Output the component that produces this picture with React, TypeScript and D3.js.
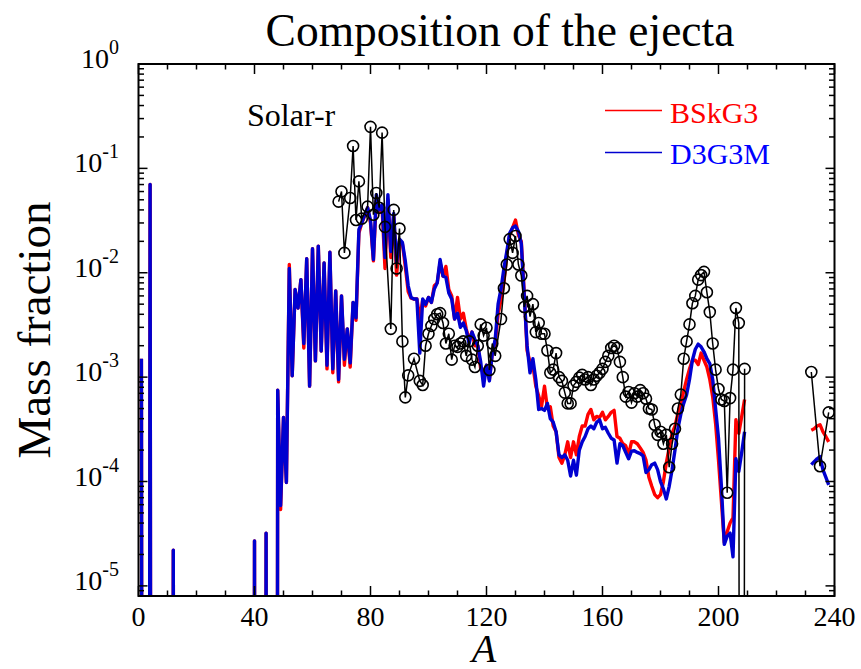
import React from 'react';
import * as d3 from 'd3';

const WIDTH = 861;
const HEIGHT = 669;
const FONT = '"Liberation Serif", "Times New Roman", serif';
const BOX = { left: 138.5, right: 834.5, top: 64, bottom: 596 };

// Mass number axis of the model curves: 1..209, a break (210), then 232..238
const modelA: number[] = [...d3.range(1, 211), ...d3.range(232, 239)];

// A = 1..47 (zeros are species absent from the ejecta)
const lightBSkG3 = [1.5e-3, 0, 0, 0.07, 0, 0, 0, 0, 0, 0, 0, 2.2e-5,
  0, 0, 0, 0, 0, 0, 0, 0, 0, 0, 0, 0, 0, 0, 0, 0, 0, 0, 0, 0, 0, 0, 0, 0, 0, 0, 0,
  2.7e-5, 0, 0, 0, 3.2e-5, 0, 0, 0];
const lightD3G3M = [1.5e-3, 0, 0, 0.07, 0, 0, 0, 0, 0, 0, 0, 2.2e-5,
  0, 0, 0, 0, 0, 0, 0, 0, 0, 0, 0, 0, 0, 0, 0, 0, 0, 0, 0, 0, 0, 0, 0, 0, 0, 0, 0,
  2.7e-5, 0, 0, 0, 3.2e-5, 0, 0, 0];

// A = 48..75
const midBSkG3 = [7.5e-4, 5.4e-5, 4.1e-4, 9.8e-5, 1.2e-2, 1.03e-3, 6.9e-3, 4.6e-3, 8.6e-3, 1.9e-3,
  1.36e-2, 8.2e-4, 1.7e-2, 1.43e-3, 1.8e-2, 1.78e-3, 1.24e-2, 1.2e-3, 1.57e-2, 1.1e-3,
  6.7e-3, 9.0e-4, 6.0e-3, 1.3e-3, 2.9e-3, 1.25e-3, 5.2e-3, 3.5e-3];
const midD3G3M = [7.5e-4, 5.9e-5, 4.1e-4, 9.8e-5, 1.1e-2, 1.03e-3, 6.9e-3, 4.6e-3, 8.6e-3, 2.1e-3,
  1.36e-2, 8.2e-4, 1.7e-2, 1.43e-3, 1.8e-2, 1.78e-3, 1.24e-2, 1.3e-3, 1.57e-2, 1.2e-3,
  6.7e-3, 9.5e-4, 6.0e-3, 1.48e-3, 2.9e-3, 1.37e-3, 5.2e-3, 3.7e-3];

// A = 76..209
const heavyBSkG3 = [
  0.024, 0.030, 0.035, 0.042, 0.030, 0.013, 0.050, 0.038, 0.042, 0.011, // 76-85
  0.050, 0.014, 0.036, 0.0095, 0.020, 0.019, 0.0115, 0.0066, 0.0057, 0.0056, // 86-95
  0.0056, 0.0036, 0.0055, 0.0048, 0.0058, 0.0052, 0.0075, 0.0080, 0.0125, 0.0093, // 96-105
  0.0115, 0.0069, 0.0060, 0.0036, 0.0058, 0.0036, 0.0041, 0.0029, 0.0023, 0.0027, // 106-115
  0.0020, 0.0020, 0.0012, 0.0011, 0.0013, 0.00095, 0.0017, 0.0021, 0.0040, 0.0055, // 116-125
  0.0080, 0.0150, 0.0230, 0.0270, 0.0320, 0.0230, 0.0200, 0.0065, 0.0018, 0.0014, // 126-135
  0.0013, 0.00082, 0.00066, 0.00053, 0.00082, 0.00050, 0.00052, 0.00034, 0.00030, 0.00017, // 136-145
  0.00015, 0.00018, 0.00024, 0.00017, 0.00024, 0.00018, 2.7e-4, 3.4e-4, 3.4e-4, 4.4e-4, // 146-155
  4.9e-4, 3.9e-4, 4.2e-4, 4.1e-4, 4.6e-4, 3.9e-4, 4.2e-4, 4.6e-4, 4.8e-4, 2.7e-4, // 156-165
  2.6e-4, 2.3e-4, 2.2e-4, 1.8e-4, 2.4e-4, 2.4e-4, 2.3e-4, 2.1e-4, 1.9e-4, 1.6e-4, // 166-175
  1.1e-4, 9.0e-5, 7.5e-5, 7.0e-5, 7.5e-5, 1.0e-4, 1.5e-4, 2.1e-4, 2.9e-4, 3.4e-4, // 176-185
  4.5e-4, 5.6e-4, 7.3e-4, 9.5e-4, 1.2e-3, 1.45e-3, 1.45e-3, 1.32e-3, 1.7e-3, 1.45e-3, // 186-195
  1.25e-3, 9.5e-4, 6.5e-4, 3.6e-4, 1.6e-4, 6.5e-5, 2.6e-5, 3.3e-5, 4.0e-5, 4.5e-5, // 196-205
  3.9e-4, 2.9e-4, 4.2e-4, 6.1e-4 // 206-209
];
const heavyD3G3M = [
  0.026, 0.030, 0.036, 0.042, 0.032, 0.0134, 0.056, 0.040, 0.045, 0.014, // 76-85
  0.056, 0.016, 0.037, 0.0125, 0.021, 0.0195, 0.013, 0.0075, 0.0058, 0.0056, // 86-95
  0.0056, 0.0017, 0.0056, 0.0050, 0.0058, 0.0052, 0.0070, 0.0080, 0.0134, 0.0093, // 96-105
  0.0090, 0.0064, 0.0056, 0.0036, 0.0041, 0.0030, 0.0033, 0.0028, 0.0021, 0.0027, // 106-115
  0.0023, 0.0020, 0.0014, 0.00082, 0.0013, 0.00092, 0.0017, 0.0023, 0.0050, 0.0070, // 116-125
  0.0110, 0.0160, 0.0240, 0.0270, 0.0280, 0.0250, 0.0190, 0.0060, 0.0020, 0.0011, // 126-135
  0.0015, 0.00095, 0.00049, 0.00050, 0.00048, 0.00056, 0.00040, 0.00037, 0.00030, 0.00018, // 136-145
  0.00017, 0.00018, 0.00016, 0.000113, 0.00016, 0.000115, 2.0e-4, 2.4e-4, 2.7e-4, 3.2e-4, // 146-155
  3.4e-4, 3.2e-4, 3.7e-4, 3.9e-4, 3.2e-4, 3.3e-4, 2.9e-4, 2.6e-4, 2.5e-4, 1.5e-4, // 156-165
  2.3e-4, 2.2e-4, 1.9e-4, 1.65e-4, 1.95e-4, 1.97e-4, 1.9e-4, 1.85e-4, 1.76e-4, 1.22e-4, // 166-175
  1.3e-4, 1.45e-4, 1.5e-4, 1.3e-4, 1.0e-4, 8.5e-5, 6.8e-5, 9.0e-5, 1.3e-4, 2.0e-4, // 176-185
  3.2e-4, 4.4e-4, 5.6e-4, 6.8e-4, 9.5e-4, 1.45e-3, 1.85e-3, 2.07e-3, 1.95e-3, 1.75e-3, // 186-195
  1.5e-3, 1.35e-3, 9.5e-4, 5.0e-4, 2.6e-4, 9.0e-5, 2.5e-5, 3.0e-5, 3.2e-5, 1.9e-5, // 196-205
  1.65e-4, 1.25e-4, 1.9e-4, 3.0e-4 // 206-209
];

// A = 232..238
const actinideBSkG3 = [3.1e-4, 3.2e-4, 3.4e-4, 3.5e-4, 3.0e-4, 2.7e-4, 2.4e-4];
const actinideD3G3M = [1.45e-4, 1.55e-4, 1.65e-4, 1.73e-4, 1.3e-4, 1.1e-4, 9.3e-5];

const bskg3: (number | null)[] = [...lightBSkG3, ...midBSkG3, ...heavyBSkG3, null, ...actinideBSkG3];
const d3g3m: (number | null)[] = [...lightD3G3M, ...midD3G3M, ...heavyD3G3M, null, ...actinideD3G3M];

// Solar r-process abundances (null = break in the curve)
const solarA = [69, 70, 71, 73, 74, 75, 76, 77, 79, 80, 81, 82, 83, 84, 85, 87, 88, 89, 90, 91,
  92, 93, 95, 97, 98, 99, 100, 101, 102, 103, 104, 105, 106, 107, 108, 109, 110, 111, 112, 113,
  114, 115, 116, 117, 118, 119, 120, 121, 122, 123, 125, 126, 127, 128, 129, 130, 131, 132, 133, 134,
  135, 136, 137, 138, 139, 140, 141, 142, 143, 144, 145, 146, 147, 148, 149, 150, 151, 152, 153, 154,
  155, 156, 157, 158, 159, 160, 161, 162, 163, 164, 165, 166, 167, 168, 169, 170, 171, 172, 173, 174,
  175, 176, 177, 178, 179, 180, 181, 182, 183, 184, 185, 186, 187, 188, 189, 190, 191, 192, 193, 194,
  195, 196, 197, 198, 199, 200, 201, 202, 203, 204, 205, 206, 207, 208, 209, 210, 232, 235, 238];
const solarR: (number | null)[] = [0.048, 0.060, 0.0155, 0.052, 0.164, 0.032, 0.075, 0.033, 0.043, 0.25,
  0.036, 0.058, 0.042, 0.22, 0.0275, 0.0029, 0.040, 0.011, 0.0265, 0.0022,
  6.4e-4, 1.04e-3, 1.5e-3, 9.2e-4, 8.4e-4, 2.0e-3, 2.6e-3, 3.1e-3, 3.6e-3, 4.0e-3,
  4.1e-3, 3.3e-3, 2.1e-3, 2.6e-3, 1.47e-3, 2.0e-3, 1.95e-3, 2.1e-3, 2.2e-3, 1.6e-3,
  2.2e-3, 1.47e-3, 1.25e-3, 2.0e-3, 3.2e-3, 2.5e-3, 2.97e-3, 1.17e-3, 2.1e-3, 1.6e-3,
  3.6e-3, 7.1e-3, 0.012, 0.021, 0.0155, 0.0225, 0.012, 0.0094, 0.0047, 0.006,
  0.0038, 0.005, 0.0027, 0.0033, 2.6e-3, 2.6e-3, 1.8e-3, 1.1e-3, 1.18e-3, 1.7e-3,
  1.0e-3, 9.2e-4, 7.1e-4, 5.6e-4, 5.6e-4, 8.3e-4, 9.0e-4, 9.9e-4, 1.05e-3, 9.5e-4,
  1.0e-3, 8.4e-4, 9.5e-4, 1.03e-3, 1.1e-3, 1.2e-3, 1.4e-3, 1.6e-3, 1.9e-3, 2.0e-3,
  1.9e-3, 1.4e-3, 1.0e-3, 6.5e-4, 7.2e-4, 5.7e-4, 7.0e-4, 6.5e-4, 7.5e-4, 7.0e-4,
  6.2e-4, 5.0e-4, 4.9e-4, 3.5e-4, 2.8e-4, 3.0e-4, 2.3e-4, 2.8e-4, 1.37e-4, 2.3e-4,
  3.2e-4, 5.0e-4, 6.8e-4, 1.5e-3, 2.2e-3, 3.2e-3, 5.1e-3, 6.0e-3, 8.6e-3, 9.5e-3,
  1.02e-2, 6.5e-3, 4.2e-3, 2.1e-3, 1.18e-3, 7.7e-4, 6.1e-4, 5.9e-4, 7.8e-5, 6.3e-4,
  1.18e-3, 4.6e-3, 3.3e-3, 0, 1.2e-3, null, 1.12e-3, 1.4e-4, 4.6e-4];

const xMajorTicks = [0, 40, 80, 120, 160, 200, 240];
const yDecadeExponents = [0, -1, -2, -3, -4, -5];

type Pt = { a: number; v: number | null };

export default function App() {
  const x = d3.scaleLinear().domain([0, 240]).range([BOX.left, BOX.right]);
  const y = d3.scaleLog().domain([8e-6, 1]).range([BOX.bottom, BOX.top]);
  const FLOOR = 1e-30;

  const line = d3.line<Pt>()
    .defined(d => d.v !== null)
    .x(d => x(d.a))
    .y(d => y(d.v === 0 ? FLOOR : (d.v as number)));

  const redPts: Pt[] = modelA.map((a, i) => ({ a, v: bskg3[i] }));
  const bluePts: Pt[] = modelA.map((a, i) => ({ a, v: d3g3m[i] }));
  const solarPts: Pt[] = solarA.map((a, i) => ({ a, v: solarR[i] }));

  const minorX = d3.range(0, 241, 10).filter(v => v % 40 !== 0);
  const minorY: number[] = [];
  for (let e = -6; e < 0; e++) {
    for (let m = 2; m <= 9; m++) {
      const v = m * Math.pow(10, e);
      if (v > 8.05e-6 && v < 1) minorY.push(v);
    }
  }
  const majorY = yDecadeExponents.map(e => Math.pow(10, e));

  const tk = { stroke: '#000', strokeWidth: 1.5 };

  return (
    <svg width={WIDTH} height={HEIGHT} style={{ position: 'absolute', left: 0, top: 0, background: '#fff' }}
      fontFamily={FONT}>
      <defs>
        <clipPath id="plotclip">
          <rect x={BOX.left} y={BOX.top} width={BOX.right - BOX.left} height={BOX.bottom - BOX.top} />
        </clipPath>
      </defs>
      <rect x={0} y={0} width={WIDTH} height={HEIGHT} fill="#fff" />

      <text x={500} y={46} fontSize={45.5} textAnchor="middle">Composition of the ejecta</text>

      <g clipPath="url(#plotclip)">
        <path d={line(redPts) || ''} fill="none" stroke="#ff0000" strokeWidth={3.4} strokeLinejoin="round" />
        <path d={line(bluePts) || ''} fill="none" stroke="#0000d0" strokeWidth={3.4} strokeLinejoin="round" />
        <path d={line(solarPts) || ''} fill="none" stroke="#000" strokeWidth={1.5} />
        {solarPts.filter(d => d.v !== null && d.v > 0).map((d, i) => (
          <circle key={i} cx={x(d.a)} cy={y(d.v as number)} r={5.5} fill="none" stroke="#000" strokeWidth={1.6} />
        ))}
      </g>

      {xMajorTicks.map(t => (
        <g key={'xm' + t}>
          <line x1={x(t)} x2={x(t)} y1={BOX.bottom} y2={BOX.bottom - 10} {...tk} />
          <line x1={x(t)} x2={x(t)} y1={BOX.top} y2={BOX.top + 10} {...tk} />
          <text x={x(t)} y={626} fontSize={28} textAnchor="middle">{t}</text>
        </g>
      ))}
      {minorX.map(t => (
        <g key={'xn' + t}>
          <line x1={x(t)} x2={x(t)} y1={BOX.bottom} y2={BOX.bottom - 5.5} {...tk} />
          <line x1={x(t)} x2={x(t)} y1={BOX.top} y2={BOX.top + 5.5} {...tk} />
        </g>
      ))}
      {majorY.map((v, i) => (
        <g key={'ym' + i}>
          <line x1={BOX.left} x2={BOX.left + 9} y1={y(v)} y2={y(v)} {...tk} />
          <line x1={BOX.right} x2={BOX.right - 9} y1={y(v)} y2={y(v)} {...tk} />
          <text x={119} y={y(v) + 4} fontSize={28} textAnchor="end">10<tspan dy={-14} fontSize={20}>{yDecadeExponents[i]}</tspan></text>
        </g>
      ))}
      {minorY.map((v, i) => (
        <g key={'yn' + i}>
          <line x1={BOX.left} x2={BOX.left + 5.5} y1={y(v)} y2={y(v)} {...tk} />
          <line x1={BOX.right} x2={BOX.right - 5.5} y1={y(v)} y2={y(v)} {...tk} />
        </g>
      ))}

      <rect x={BOX.left} y={BOX.top} width={BOX.right - BOX.left} height={BOX.bottom - BOX.top}
        fill="none" stroke="#000" strokeWidth={2} />

      <text transform={`translate(50,${(BOX.top + BOX.bottom) / 2}) rotate(-90)`} fontSize={47} textAnchor="middle">Mass fraction</text>
      <text x={484} y={662} fontSize={40} fontStyle="italic" textAnchor="middle">A</text>

      <text x={247} y={126} fontSize={32}>Solar-r</text>

      <line x1={605} x2={662} y1={110.5} y2={110.5} stroke="#ff0000" strokeWidth={1.6} />
      <text x={670} y={122.5} fontSize={30} fill="#ff0000">BSkG3</text>
      <line x1={605} x2={662} y1={152.5} y2={152.5} stroke="#0000d0" strokeWidth={1.6} />
      <text x={670} y={163.5} fontSize={30} fill="#0000ff">D3G3M</text>
    </svg>
  );
}
